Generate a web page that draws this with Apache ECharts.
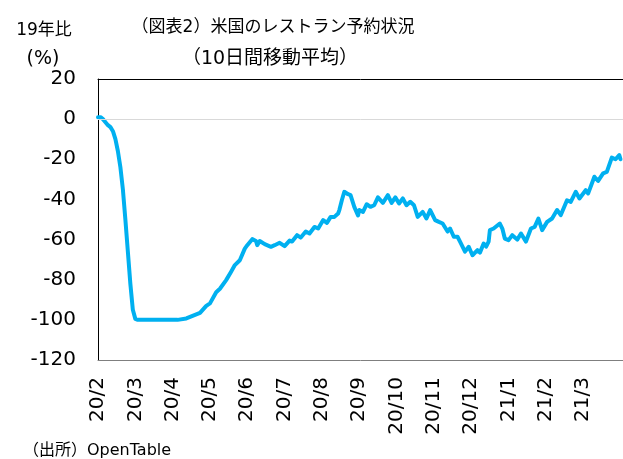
<!DOCTYPE html>
<html>
<head>
<meta charset="utf-8">
<script src="https://cdn.jsdelivr.net/npm/echarts@6/dist/echarts.min.js"></script>
<style>html,body{margin:0;padding:0;background:#fff;}#c{width:623px;height:459px;}</style>
</head>
<body>
<div id="c"></div>
<script>
// Tick labels of the x axis (one every 30 days, starting 2020-02-18)
const xTickLabels = ['20/2','20/3','20/4','20/5','20/6','20/7','20/8','20/9','20/10','20/11','20/12','21/1','21/2','21/3'];
// Y axis range
const yMin = -120, yMax = 20, yStep = 20;
// [day index since start, 10-day moving average % vs 2019]
const reservations = [
  [0,1],[2,1],[4,0],[6,-1.5],[8,-3],[10,-4],[12,-6],[14,-10],[16,-16],[18,-24],[20,-35],[22,-50],[24,-66],[26,-82],[28,-95],[30,-99.5],[32,-100],
  [64,-100],[71,-99.3],[76,-98],[82,-96.5],[87,-93],[90,-91.8],[95,-86.2],[98,-84.5],[103,-80.2],[107,-76],[110,-72.7],[114,-70.3],[118,-64.5],[120,-62.8],
  [124,-59.8],[127,-60.7],[128,-62.8],[130,-60.7],[134,-62.3],[139,-63.6],[142,-62.8],[146,-61.6],[150,-63.3],[154,-60.5],[156,-61],[160,-57.8],[163,-59],
  [167,-56],[170,-57],[174,-53.7],[177,-54.5],[181,-50.3],[184,-51.7],[187,-48.7],[190,-48.7],[193,-47],[194,-45.3],[196,-40.4],[198,-36.2],[201,-37.4],
  [203,-37.9],[206,-43.7],[209,-48],[210,-45.3],[213,-46.2],[216,-42.4],[219,-43.7],[222,-42.9],[225,-39],[229,-41.7],[233,-37.9],[236,-41.7],[239,-39],
  [242,-42],[245,-39.5],[248,-42.9],[251,-41.2],[254,-42.9],[257,-48.7],[261,-46.2],[264,-49.5],[267,-45.3],[271,-50.3],[274,-51.2],[277,-52],[281,-56],
  [283,-54.5],[286,-58.6],[289,-58.6],[291,-61],[295,-66],[298,-63.6],[301,-67.8],[305,-65.3],[307,-66.5],[310,-62],[312,-63.5],[314,-61],[315,-55.3],
  [318,-54.5],[321,-53],[323,-52],[325,-54.5],[327,-59.5],[330,-60.3],[333,-57.8],[337,-60],[340,-57],[344,-61],[348,-54.5],[351,-53.7],[354,-49.5],
  [357,-55.3],[361,-51.2],[365,-49.5],[369,-45.3],[372,-47.8],[377,-40.4],[380,-41.2],[384,-36.2],[387,-39.5],[392,-35.4],[394,-37],[399,-28.7],
  [402,-30.8],[406,-27],[409,-26.3],[413,-19.2],[416,-20],[419,-17.9],[420,-20]
];
const titleLine1 = '（図表2）米国のレストラン予約状況';
const titleLine2 = '（10日間移動平均）';
const yUnit1 = '19年比';
const yUnit2 = '(%)';
const sourceNote = '（出所）OpenTable';

const FONT = "'DejaVu Sans','Noto Sans CJK JP',sans-serif";
const chart = echarts.init(document.getElementById('c'), null, {renderer:'canvas'});
function txt(text, x, y, size, align){
  return {type:'text', x:x, y:y, silent:true,
    style:{text:text, fontFamily:FONT, fontSize:size, fill:'#000',
      align:align||'center', verticalAlign:'middle', textAlign:align||'center', textVerticalAlign:'middle'}};
}
chart.setOption({
  animation:false,
  backgroundColor:'#fff',
  grid:{left:98, right:-2, top:79, bottom:99},
  xAxis:[{
    type:'value', min:0, max:422, interval:30,
    axisLine:{show:true, onZero:false, lineStyle:{color:'#7f7f7f', width:1}},
    axisTick:{show:false},
    splitLine:{show:false},
    axisLabel:{
      rotate:90, margin:17, fontFamily:FONT, fontSize:20, color:'#000',
      showMaxLabel:false,
      formatter:function(v){ return (v % 30 === 0 && xTickLabels[v/30]) ? xTickLabels[v/30] : ''; }
    }
  },{
    type:'value', position:'top', min:0, max:422, interval:30,
    axisLine:{show:true, onZero:false, lineStyle:{color:'#000', width:1}},
    axisTick:{show:false}, axisLabel:{show:false}, splitLine:{show:false}
  }],
  yAxis:{
    type:'value', min:yMin, max:yMax, interval:yStep,
    axisLine:{show:true, lineStyle:{color:'#000', width:1}},
    axisTick:{show:false},
    splitLine:{show:false},
    axisLabel:{margin:22, fontFamily:FONT, fontSize:20, color:'#000'}
  },
  series:[
    {type:'line', data:[], silent:true, z:1, xAxisIndex:0,
      markLine:{silent:true, symbol:'none', label:{show:false},
        lineStyle:{color:'#d9d9d9', width:1, type:'solid'}, data:[{yAxis:0}]}},
    {type:'line', data:reservations, xAxisIndex:0, showSymbol:false, symbol:'none', smooth:false, z:3,
      lineStyle:{color:'#00B0F0', width:4, join:'round', cap:'round'}}
  ],
  graphic:[
    txt(titleLine1, 273, 28, 17),
    txt(titleLine2, 270, 59, 19),
    txt(yUnit1, 44, 31, 17),
    txt(yUnit2, 43, 59, 19),
    txt(sourceNote, 23, 451, 16, 'left')
  ]
});
</script>
</body>
</html>
